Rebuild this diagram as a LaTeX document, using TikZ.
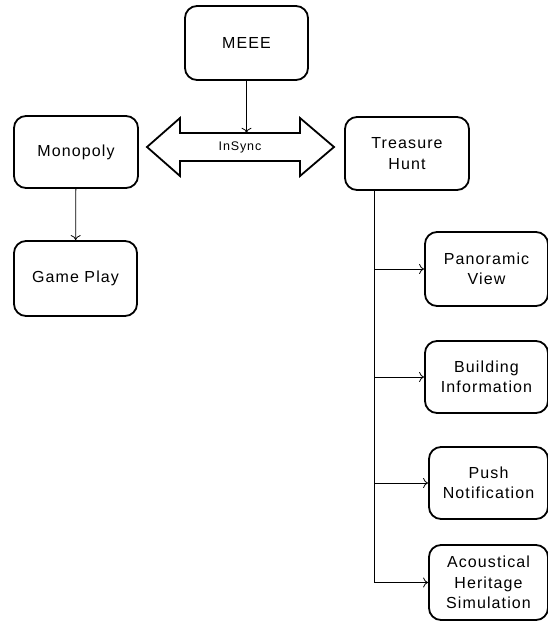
\documentclass[tikz,border=0pt]{standalone}
\usepackage{fontspec}
\setmainfont{Liberation Sans}
\newfontfamily\boxfont[LetterSpace=7]{Liberation Sans}
\usepackage{tikz}
\usetikzlibrary{arrows.meta}

\begin{document}
\begin{tikzpicture}
  [x=1pt,y=-1pt,
   box/.style={rectangle,rounded corners=12pt,draw=black,line width=1.8pt,
               align=center,font={\boxfont\fontsize{16}{20.5}\selectfont}},
   link/.style={-{To[length=5pt,width=10pt]},line width=0.8pt}]
  \useasboundingbox (0,0) rectangle (548,621);
  \node at (246.5,43) (meee) [box,minimum width=123pt,minimum height=74pt] {MEEE};
  \node at (76,152) (mono) [box,minimum width=124pt,minimum height=72pt] {Monopoly};
  \node at (407,153.5) (tre) [box,minimum width=124pt,minimum height=73pt] {Treasure\\Hunt};
  \node at (75.5,278.5) (game) [box,minimum width=123pt,minimum height=75pt] {Game Play};
  \node at (486.5,269) (pano) [box,minimum width=123pt,minimum height=74pt] {Panoramic\\View};
  \node at (486.5,377) (build) [box,minimum width=123pt,minimum height=72pt] {Building\\Information};
  \node at (488.5,483) (push) [box,minimum width=119pt,minimum height=72pt] {Push\\Notification};
  \node at (488.5,582.5) (acou) [box,minimum width=119pt,minimum height=75pt] {Acoustical\\Heritage\\Simulation};
  % InSync double arrow
  \draw [line width=1.8pt,line join=miter]
    (147,147) -- (180,118) -- (180,133) -- (300,133) -- (300,118) -- (334,147)
    -- (300,176) -- (300,161) -- (180,161) -- (180,176) -- cycle;
  \node at (240,147) (insync) [minimum width=120pt,minimum height=28pt,inner sep=0pt,
    font={\boxfont\fontsize{12.5}{14}\selectfont}] {InSync};
  \draw [link] (meee) -- (meee |- insync.north);
  \draw [link] (mono) -- (game);
  % treasure hunt branches
  \coordinate (trunk) at (374,583);
  \draw [line width=0.8pt] (tre.south -| trunk) -- (trunk);
  \foreach \b in {pano,build,push,acou}
    \draw [link] (\b.west -| trunk) -- (\b.west);
\end{tikzpicture}
\end{document}
